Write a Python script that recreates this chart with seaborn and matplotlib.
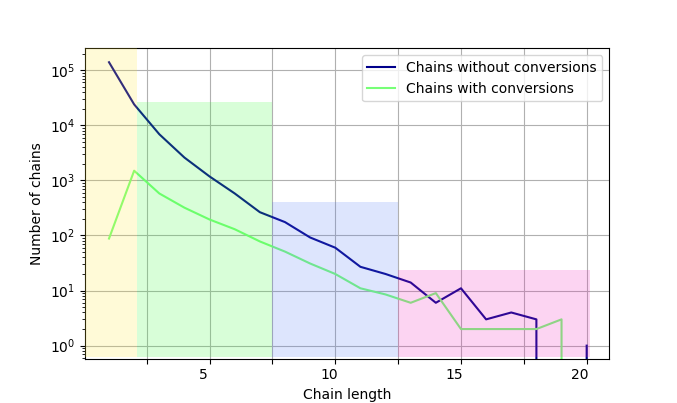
import numpy as np
import pandas as pd
import matplotlib
matplotlib.use("Agg")
import matplotlib.pyplot as plt
from matplotlib.transforms import ScaledTranslation
import seaborn as sns

# Data
chain_length = list(range(1, 21))
without_conv = [140000, 24000, 6900, 2600, 1180, 580, 265, 175, 92, 60,
                27, 20, 14, 6, 11, 3, 4, 3, 0, 1]
with_conv = [88, 1500, 580, 320, 195, 130, 78, 51, 31, 20,
             11, 8.5, 6, 9, 2, 2, 2, 2, 3, 0]

# Shaded ranges: (start, end, top)
band_start = [0.0, 2.1, 7.5, 12.5]
band_end = [2.1, 7.5, 12.5, 20.15]
band_top = [1e6, 27000, 400, 24]
band_colors = ["#ffe637", "#3cfa3c", "#557df5", "#f028be"]

xtick_pos = [2.5, 5, 7.5, 10, 12.5, 15, 17.5, 20]
xtick_lab = ["", "5", "", "10", "", "15", "", "20"]

df = pd.DataFrame({"length": chain_length,
                   "without": without_conv,
                   "with": with_conv})

fig, ax = plt.subplots(figsize=(6.77, 4.03), dpi=100)

sns.lineplot(data=df, x="length", y="without", color="#00008b",
             label="Chains without conversions", ax=ax, linewidth=1.5)
sns.lineplot(data=df, x="length", y="with", color="#77ff77",
             label="Chains with conversions", ax=ax, linewidth=1.5)

ax.set_yscale("log")

for s, e, t, c in zip(band_start, band_end, band_top, band_colors):
    ax.fill_between([s, e], [0.63, 0.63], [t, t], color=c, alpha=0.2,
                    linewidth=0, zorder=3)

ax.set_xlim(0.03, 20.9)
ax.set_ylim(0.58, 2.5e5)
ax.set_xticks(xtick_pos)
ax.set_xticklabels(xtick_lab)
ax.grid(True)
ax.set_xlabel("Chain length")
ax.set_ylabel("Number of chains")
ax.legend(loc="upper right")

offset = ScaledTranslation(-0.065, 0, fig.dpi_scale_trans)
for lab in ax.get_xticklabels():
    lab.set_transform(lab.get_transform() + offset)

fig.savefig("out.png", dpi=100)
